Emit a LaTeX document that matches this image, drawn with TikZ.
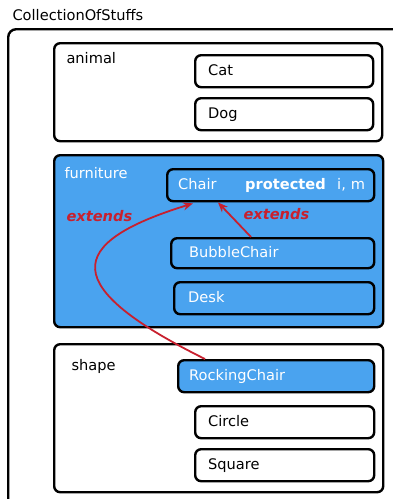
\documentclass[tikz,border=0pt]{standalone}
\usepackage{fontspec}
\setmainfont{DejaVu Sans}
\usepackage{xcolor}
\usepackage{tikz}
\usetikzlibrary{positioning, calc, arrows.meta}

\definecolor{furnblue}{HTML}{4AA3EF}
\definecolor{extred}{HTML}{C8202E}

\begin{document}
\begin{tikzpicture}[x=1pt, y=-1pt,
        font=\fontsize{14.6}{17}\selectfont,
        group/.style={draw, line width=2.4pt, rounded corners=6pt,
        anchor=north west, inner sep=0pt},
        item/.style={draw, line width=2.4pt, rounded corners=6pt,
        anchor=north west, align=left, minimum height=32pt,
        text height=0.84em, text depth=0pt},
        extends/.style={draw=extred, line width=1.8pt,
        -{Stealth[length=10pt, width=8pt]}},
        extlabel/.style={text=extred, font=\fontsize{14.6}{17}\selectfont
        \bfseries\itshape, anchor=west}]
        \useasboundingbox (0,0) rectangle (393,499);
        % outer collection, cut off by the page
        \node [group, rounded corners=8pt, minimum width=400pt,
        minimum height=478pt] (stuffs) at (7,28) {};
        \node [anchor=west] (stuffsname) at (9,15) {CollectionOfStuffs};

        % animal
        \node [group, minimum width=328pt, minimum height=98pt] (animal)
        at (53,42) {};
        \node [anchor=west] (animalname) at ($(animal.north west) + (10,16)$)
        {animal};
        \node [item, fill=white, text width=152pt, inner xsep=13pt] (cat)
        at (194,54) {Cat};
        \node [item, fill=white, text width=152pt, inner xsep=13pt] (dog)
        at (194,97) {Dog};

        % furniture
        \node [group, fill=furnblue, minimum width=329pt,
        minimum height=172pt] (furniture) at (53,154) {};
        \node [anchor=west, text=white] (furniturename)
        at ($(furniture.north west) + (8,19)$) {furniture};
        \node [item, fill=furnblue, text=white, text width=185pt,
        inner xsep=11pt] (chair) at (166,168)
        {\makebox[67pt][l]{Chair}\makebox[92pt][l]{\textbf{protected}}\mbox{i, m}};
        \node [item, fill=furnblue, text=white, text width=167pt,
        inner xsep=18pt, minimum height=30pt] (bubble) at (170,237)
        {BubbleChair};
        \node [item, fill=furnblue, text=white, text width=172pt,
        inner xsep=14pt] (desk) at (173,281) {Desk};

        % shape
        \node [group, minimum width=329pt, minimum height=148pt] (shape)
        at (53,343) {};
        \node [anchor=west] (shapename) at ($(shape.north west) + (15,23)$)
        {shape};
        \node [item, fill=furnblue, text=white, text width=174pt,
        inner xsep=11pt] (rocking) at (177,359) {RockingChair};
        \node [item, fill=white, text width=153pt, inner xsep=13pt] (circle)
        at (194,405) {Circle};
        \node [item, fill=white, text width=153pt, inner xsep=13pt] (square)
        at (194,448) {Square};

        % extends arrows
        \draw [extends] ($(bubble.north west) + (81,0)$) --
        ($(chair.south west) + (52,0)$);
        \draw [extends] ($(rocking.north west) + (28,0)$) .. controls
        +(-145,-72) and +(-130,40) .. ($(chair.south west) + (27,1)$);
        \node [extlabel] (extendsright) at (240,214) {extends};
        \node [extlabel] (extendsleft) at (63,216) {extends};
    \end{tikzpicture}
\end{document}
